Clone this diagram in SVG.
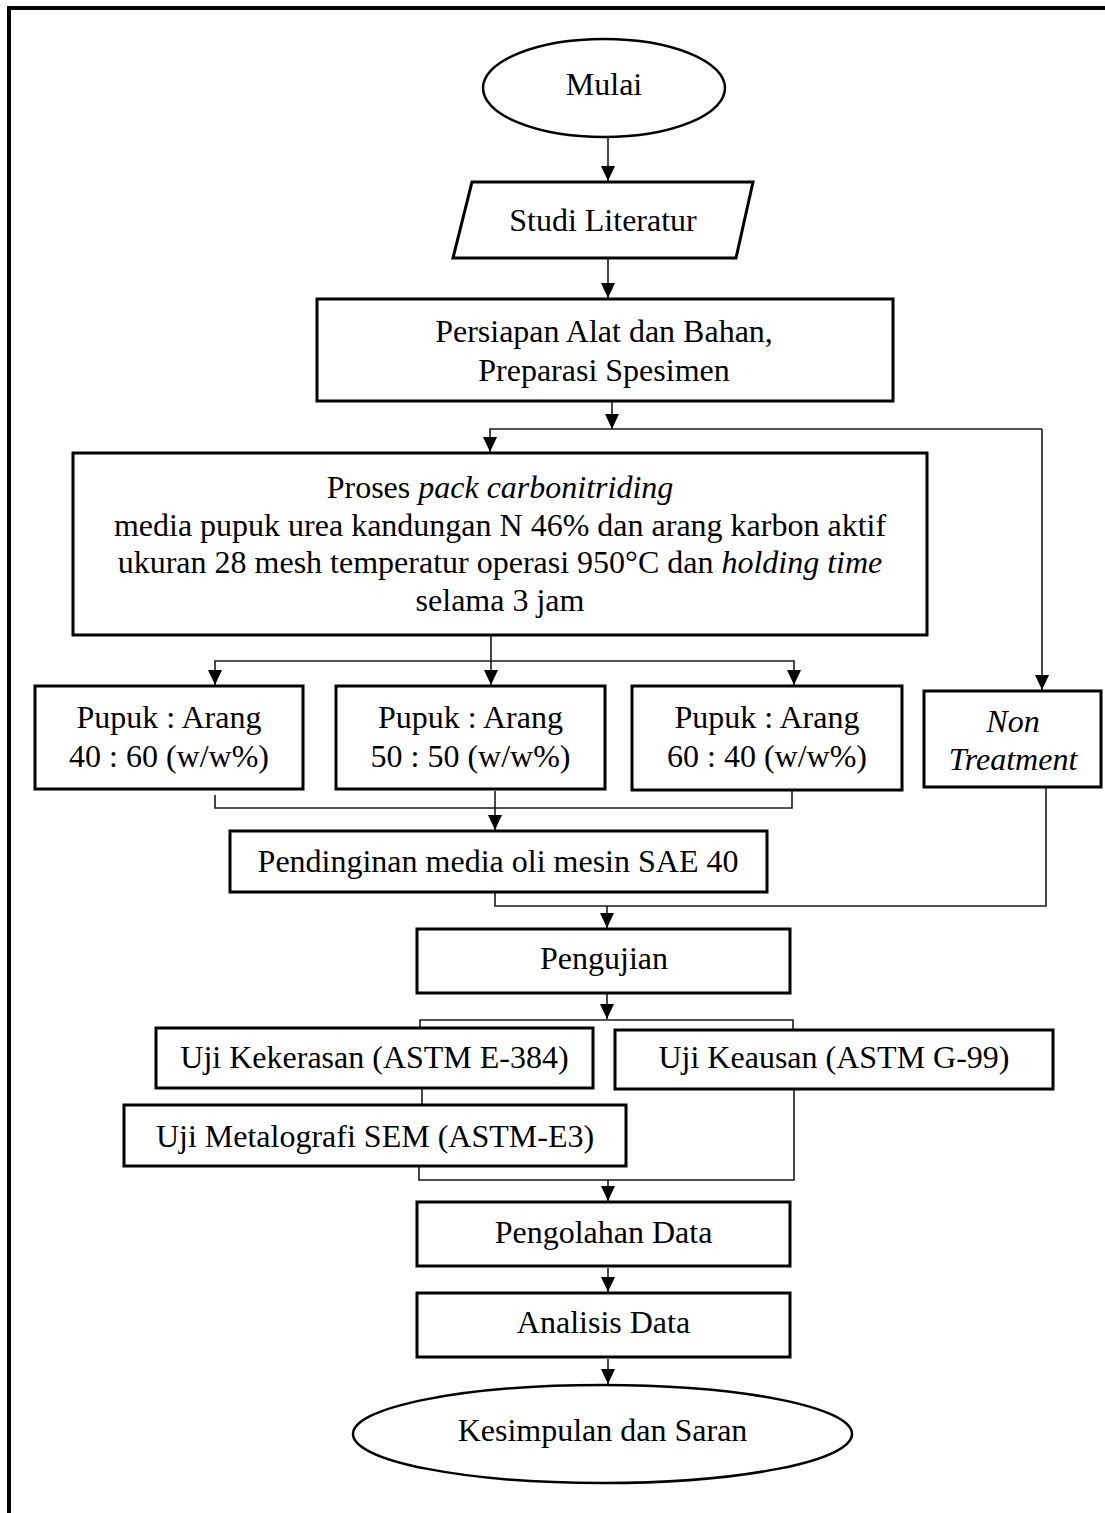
<svg xmlns="http://www.w3.org/2000/svg" width="1105" height="1513" viewBox="0 0 1105 1513">
<style>
.box{fill:#fff;stroke:#000;stroke-width:3}
.term{fill:#fff;stroke:#000;stroke-width:2.5}
.t{font-family:"Liberation Serif","Times New Roman",serif;font-size:32px;fill:#000;text-anchor:middle}
.i{font-style:italic}
.c{fill:none;stroke:#1a1a1a;stroke-width:1.6}
.a{marker-end:url(#ah)}
.frame{fill:none;stroke:#000;stroke-width:4}
</style>
<defs>
<marker id="ah" markerUnits="userSpaceOnUse" viewBox="0 0 15 14" refX="15" refY="7" markerWidth="15" markerHeight="14" orient="auto">
<path d="M0,0 L15,7 L0,14 z" fill="#000"/>
</marker>
</defs>
<path class="frame" d="M9,1513 V8 H1105"/>

<g id="connectors">
<path class="c a" d="M608,138 V181"/>
<path class="c a" d="M608,259 V298"/>
<path class="c a" d="M612,402 V429"/>
<path class="c a" d="M1042,429 H490 V452"/>
<path class="c a" d="M1042,429 V690"/>
<path class="c" d="M491,636 V661"/>
<path class="c a" d="M491,661 V685"/>
<path class="c a" d="M491,661 H215 V685"/>
<path class="c a" d="M491,661 H794 V685"/>
<path class="c" d="M215,795 V808 H792 V791"/>
<path class="c a" d="M495,791 V830"/>
<path class="c" d="M495,893 V906 H1046 V788"/>
<path class="c a" d="M607,906 V928"/>
<path class="c a" d="M607,994 V1019"/>
<path class="c" d="M420,1028 V1020 H793 V1030"/>
<path class="c" d="M422,1089 V1105"/>
<path class="c" d="M419,1167 V1180 H794 V1090"/>
<path class="c a" d="M608,1180 V1201"/>
<path class="c a" d="M608,1268 V1292"/>
<path class="c a" d="M608,1359 V1384"/>
</g>

<g id="mulai">
<ellipse class="term" cx="604" cy="88" rx="121" ry="49"/>
<text class="t" x="604" y="95">Mulai</text>
</g>

<g id="studi-literatur">
<polygon class="box" points="472,182 753,182 736,258 453,258"/>
<text class="t" x="603" y="231">Studi Literatur</text>
</g>

<g id="persiapan">
<rect class="box" x="317" y="299" width="576" height="102"/>
<text class="t" x="604" y="342">Persiapan Alat dan Bahan,</text>
<text class="t" x="604" y="381">Preparasi Spesimen</text>
</g>

<g id="proses">
<rect class="box" x="73" y="453" width="854" height="182"/>
<text class="t" x="500" y="498">Proses <tspan class="i">pack carbonitriding</tspan></text>
<text class="t" x="500" y="535.5">media pupuk urea kandungan N 46% dan arang karbon aktif</text>
<text class="t" x="500" y="573">ukuran 28 mesh temperatur operasi 950°C dan <tspan class="i">holding time</tspan></text>
<text class="t" x="500" y="610.5">selama 3 jam</text>
</g>

<g id="pupuk-40-60">
<rect class="box" x="35" y="686" width="268" height="103"/>
<text class="t" x="169" y="728">Pupuk : Arang</text>
<text class="t" x="169" y="767">40 : 60 (w/w%)</text>
</g>

<g id="pupuk-50-50">
<rect class="box" x="336" y="686" width="269" height="103"/>
<text class="t" x="470.5" y="728">Pupuk : Arang</text>
<text class="t" x="470.5" y="767">50 : 50 (w/w%)</text>
</g>

<g id="pupuk-60-40">
<rect class="box" x="632" y="686" width="270" height="104"/>
<text class="t" x="767" y="728">Pupuk : Arang</text>
<text class="t" x="767" y="767">60 : 40 (w/w%)</text>
</g>

<g id="non-treatment">
<rect class="box" x="924" y="691" width="177" height="96"/>
<text class="t i" x="1013" y="732">Non</text>
<text class="t i" x="1013" y="770">Treatment</text>
</g>

<g id="pendinginan">
<rect class="box" x="230" y="831" width="537" height="61"/>
<text class="t" x="498" y="872">Pendinginan media oli mesin SAE 40</text>
</g>

<g id="pengujian">
<rect class="box" x="417" y="929" width="373" height="64"/>
<text class="t" x="604" y="969">Pengujian</text>
</g>

<g id="uji-kekerasan">
<rect class="box" x="156" y="1028" width="437" height="60"/>
<text class="t" x="374.5" y="1068">Uji Kekerasan (ASTM E-384)</text>
</g>

<g id="uji-keausan">
<rect class="box" x="615" y="1030" width="438" height="59"/>
<text class="t" x="834" y="1068">Uji Keausan (ASTM G-99)</text>
</g>

<g id="uji-metalografi">
<rect class="box" x="124" y="1105" width="502" height="61"/>
<text class="t" x="375" y="1147">Uji Metalografi SEM (ASTM-E3)</text>
</g>

<g id="pengolahan-data">
<rect class="box" x="417" y="1202" width="373" height="64"/>
<text class="t" x="603.5" y="1243">Pengolahan Data</text>
</g>

<g id="analisis-data">
<rect class="box" x="417" y="1293" width="373" height="64"/>
<text class="t" x="603.5" y="1333">Analisis Data</text>
</g>

<g id="kesimpulan">
<ellipse class="term" cx="602.5" cy="1434" rx="249.5" ry="49"/>
<text class="t" x="602.5" y="1441">Kesimpulan dan Saran</text>
</g>
</svg>
